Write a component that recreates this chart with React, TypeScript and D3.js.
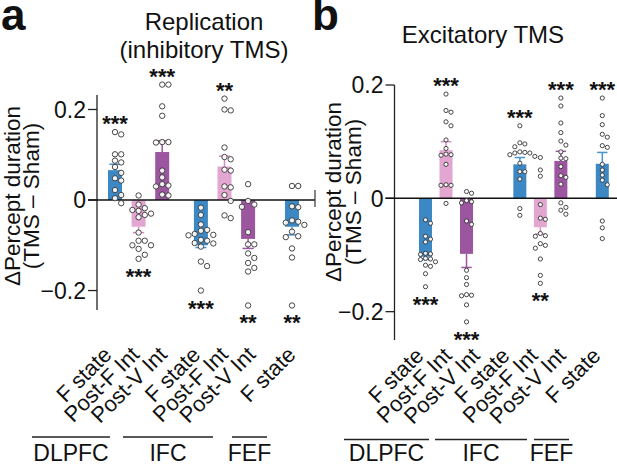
import * as d3 from "d3";

// ---- data ----
const CONDITIONS = ["F state", "Post-F Int", "Post-V Int", "F state", "Post-F Int", "Post-V Int", "F state"];
const REGIONS = ["DLPFC", "DLPFC", "DLPFC", "IFC", "IFC", "IFC", "FEF"];
const KINDS = ["F", "PF", "PV", "F", "PF", "PV", "F"];
const Y_TICKS = [-0.2, 0, 0.2];

const INHIB_MEANS = [0.066, -0.059, 0.106, -0.1, 0.074, -0.086, -0.059];
const INHIB_SEMS = [0.013, 0.013, 0.025, 0.005, 0.023, 0.021, 0.018];
const INHIB_STARS = ["***", "***", "***", "***", "**", "**", "**"];
const INHIB_POINTS = [
  [0.15, 0.145, 0.101, 0.101, 0.087, 0.083, 0.073, 0.06, 0.048, 0.043, 0.022, 0.011, 0.004, -0.007],
  [0.01, -0.01, -0.018, -0.022, -0.024, -0.03, -0.033, -0.038, -0.072, -0.09, -0.09, -0.1, -0.1, -0.108, -0.121, -0.13],
  [0.255, 0.255, 0.207, 0.186, 0.128, 0.127, 0.128, 0.065, 0.05, 0.032, 0.035, 0.03, 0.012, 0.01],
  [-0.017, -0.033, -0.054, -0.066, -0.068, -0.075, -0.077, -0.078, -0.088, -0.09, -0.095, -0.096, -0.103, -0.136, -0.146, -0.2],
  [0.224, 0.198, 0.2, 0.116, 0.095, 0.09, 0.065, 0.067, 0.03, 0.028, 0.011, -0.002, -0.034, -0.04],
  [0.035, -0.002, -0.01, -0.015, -0.071, -0.098, -0.098, -0.118, -0.128, -0.139, -0.15, -0.158, -0.233],
  [0.031, 0.031, -0.014, -0.016, -0.045, -0.05, -0.048, -0.055, -0.07, -0.08, -0.082, -0.107, -0.127, -0.233],
];

const EXCIT_MEANS = [-0.103, 0.085, -0.098, 0.06, -0.051, 0.066, 0.061];
const EXCIT_SEMS = [0.005, 0.015, 0.024, 0.012, 0.012, 0.017, 0.02];
const EXCIT_STARS = ["***", "***", "***", "***", "**", "***", "***"];
const EXCIT_POINTS = [
  [-0.038, -0.044, -0.067, -0.072, -0.077, -0.098, -0.099, -0.097, -0.106, -0.107, -0.108, -0.112, -0.118, -0.12, -0.133, -0.156],
  [0.184, 0.152, 0.155, 0.135, 0.128, 0.103, 0.088, 0.077, 0.078, 0.076, 0.06, 0.023, 0.023, 0.024, -0.009],
  [0.009, 0.012, -0.008, -0.006, -0.004, -0.04, -0.046, -0.127, -0.14, -0.152, -0.172, -0.17, -0.171, -0.188, -0.218],
  [0.128, 0.098, 0.096, 0.091, 0.081, 0.08, 0.082, 0.08, 0.074, 0.077, 0.062, 0.047, 0.047, 0.034, -0.018, -0.03],
  [0.072, 0.05, 0.039, -0.011, -0.035, -0.037, -0.062, -0.067, -0.066, -0.083, -0.08, -0.088, -0.107, -0.136, -0.15],
  [0.177, 0.163, 0.133, 0.116, 0.101, 0.094, 0.082, 0.07, 0.071, 0.056, 0.037, 0.04, 0.025, -0.008, -0.016, -0.021, -0.028],
  [0.177, 0.146, 0.13, 0.108, 0.113, 0.09, 0.093, 0.06, 0.05, 0.041, 0.032, 0.024, -0.04, -0.052, -0.071],
];

// ---- styles / layout ----
const WIDTH = 617;
const HEIGHT = 466;
const FONT = "'Liberation Sans', Arial, Helvetica, sans-serif";
const BAR_COLORS: Record<string, string> = { F: "#3b88c4", PF: "#e2a6d1", PV: "#9c559f" };
const ERR_COLORS: Record<string, string> = { F: "#4a94cc", PF: "#d58cc2", PV: "#9c559f" };

interface PanelLayout {
  letter: string;
  letterX: number;
  title: string[];
  titleX: number;
  titleY: number[];
  yDomain: [number, number];
  yRange: [number, number];
  axisX: number;
  zeroEnd: number;
  zeroEndTick: boolean;
  barRange: [number, number];
  barGaps: number[];
  barWidth: number;
  dotR: number;
  labelRange: [number, number];
  labelGaps: number[];
  labelY: number;
  ruleY: number;
  ruleSpans: Record<string, [number, number]>;
  regionY: number;
  yTitleX: [number, number];
  yTitleY: number;
}

const LAYOUT_A: PanelLayout = {
  letter: "a",
  letterX: 1,
  title: ["Replication", "(inhibitory TMS)"],
  titleX: 204,
  titleY: [30, 58],
  yDomain: [-0.243, 0.232],
  yRange: [310, 95],
  axisX: 97,
  zeroEnd: 315,
  zeroEndTick: true,
  barRange: [115, 292],
  barGaps: [0.64, 0.86],
  barWidth: 14,
  dotR: 2.7,
  labelRange: [113, 297],
  labelGaps: [0.2, 0.45],
  labelY: 356,
  ruleY: 437,
  ruleSpans: { DLPFC: [32, 110], IFC: [123, 213], FEF: [232, 267] },
  regionY: 461,
  yTitleX: [20, 39],
  yTitleY: 196,
};

const LAYOUT_B: PanelLayout = {
  letter: "b",
  letterX: 312,
  title: ["Excitatory TMS"],
  titleX: 483,
  titleY: [43],
  yDomain: [-0.25, 0.2],
  yRange: [340, 85],
  axisX: 394.5,
  zeroEnd: 617,
  zeroEndTick: false,
  barRange: [425.5, 602.3],
  barGaps: [1.6, 1.02],
  barWidth: 13,
  dotR: 2.1,
  labelRange: [425, 602],
  labelGaps: [0.06, 0.24],
  labelY: 357,
  ruleY: 439.5,
  ruleSpans: { DLPFC: [344, 429], IFC: [435, 527], FEF: [534, 569] },
  regionY: 461,
  yTitleX: [341, 361],
  yTitleY: 192,
};

// position units: 1 per bar, plus an extra gap between regions
function unitsFor(regions: string[], gaps: number[]) {
  const out: number[] = [];
  let u = 0;
  let g = 0;
  regions.forEach((r, i) => {
    if (i > 0) u += 1 + (r !== regions[i - 1] ? gaps[g++] : 0);
    out.push(u);
  });
  return out;
}

// simple deterministic beeswarm so dots don't overlap
function dodge(values: number[], y: (v: number) => number, cx: number, r: number) {
  const pts = values.map((v) => ({ v, py: y(v), px: cx }));
  const sorted = [...pts].sort((a, b) => a.py - b.py);
  const placed: typeof pts = [];
  const step = 2 * r + 0.8;
  for (const p of sorted) {
    for (let k = 0; k < 30; k++) {
      const off = k === 0 ? 0 : (k % 2 ? 1 : -1) * Math.ceil(k / 2) * step;
      const px = cx + off;
      const ok = placed.every((q) => (q.px - px) ** 2 + (q.py - p.py) ** 2 >= (2 * r + 0.5) ** 2);
      if (ok) {
        p.px = px;
        break;
      }
    }
    placed.push(p);
  }
  return pts;
}

function Panel({ L, means, sems, stars, points }: {
  L: PanelLayout;
  means: number[];
  sems: number[];
  stars: string[];
  points: number[][];
}) {
  const y = d3.scaleLinear().domain(L.yDomain).range(L.yRange);
  const barUnits = unitsFor(REGIONS, L.barGaps);
  const labelUnits = unitsFor(REGIONS, L.labelGaps);
  const x = d3.scaleLinear().domain([0, barUnits[barUnits.length - 1]]).range(L.barRange);
  const xLab = d3.scaleLinear().domain([0, labelUnits[labelUnits.length - 1]]).range(L.labelRange);
  const y0 = y(0);
  const regions = Array.from(new Set(REGIONS));

  return (
    <g fontFamily={FONT}>
      {/* panel letter + title */}
      <text x={L.letterX} y={30} fontSize={44} fontWeight="bold" fill="#111">
        {L.letter}
      </text>
      {L.title.map((t, i) => (
        <text key={t} x={L.titleX} y={L.titleY[i]} fontSize={24} textAnchor="middle" fill="#111">
          {t}
        </text>
      ))}

      {/* y title */}
      {["\u0394Percept duration", "(TMS \u2013 Sham)"].map((t, i) => (
        <text
          key={t}
          transform={`translate(${L.yTitleX[i]},${L.yTitleY}) rotate(-90)`}
          fontSize={22.5}
          textAnchor="middle"
          fill="#111"
        >
          {t}
        </text>
      ))}

      {/* y axis */}
      <line x1={L.axisX} x2={L.axisX} y1={L.yRange[0]} y2={L.yRange[1]} stroke="#222" strokeWidth={1.3} />
      {Y_TICKS.map((t) => (
        <g key={t}>
          <line x1={L.axisX - 9} x2={L.axisX} y1={y(t)} y2={y(t)} stroke="#222" strokeWidth={1.3} />
          <text x={L.axisX - 11} y={y(t)} dy="0.36em" fontSize={23} textAnchor="end" fill="#111">
            {t === 0 ? "0" : d3.format(".1f")(t).replace("-", "\u2212")}
          </text>
        </g>
      ))}

      {/* bars */}
      {means.map((m, i) => {
        const cx = x(barUnits[i]);
        const w = L.barWidth;
        const kind = KINDS[i];
        const tip = y(m + Math.sign(m) * sems[i]);
        return (
          <g key={`bar${i}`}>
            <rect
              x={cx - w / 2}
              width={w}
              y={Math.min(y(m), y0)}
              height={Math.abs(y(m) - y0)}
              fill={BAR_COLORS[kind]}
            />
            <line x1={cx} x2={cx} y1={y(m)} y2={tip} stroke={ERR_COLORS[kind]} strokeWidth={1.5} />
            <line x1={cx - w * 0.4} x2={cx + w * 0.4} y1={tip} y2={tip} stroke={ERR_COLORS[kind]} strokeWidth={1.5} />
          </g>
        );
      })}

      {/* zero line */}
      <line x1={L.axisX - 9} x2={L.zeroEnd} y1={y0} y2={y0} stroke="#111" strokeWidth={1.5} />
      {L.zeroEndTick && (
        <line x1={L.zeroEnd} x2={L.zeroEnd} y1={y0 - 10} y2={y0 + 7} stroke="#333" strokeWidth={1.2} />
      )}

      {/* individual subjects */}
      {points.map((vals, i) =>
        dodge(vals, y, x(barUnits[i]), L.dotR).map((p, j) => (
          <circle
            key={`p${i}-${j}`}
            cx={p.px}
            cy={p.py}
            r={L.dotR}
            fill="white"
            fillOpacity={0.9}
            stroke="#333"
            strokeWidth={0.9}
          />
        )),
      )}

      {/* significance stars */}
      {stars.map((s, i) => {
        const above = means[i] > 0;
        const ext = above ? d3.max(points[i])! : d3.min(points[i])!;
        return (
          <text
            key={`s${i}`}
            x={x(barUnits[i])}
            y={above ? y(ext) - 1 : y(ext) + 25}
            fontSize={22}
            fontWeight="bold"
            textAnchor="middle"
            fill="#111"
          >
            {s}
          </text>
        );
      })}

      {/* condition labels */}
      {CONDITIONS.map((c, i) => {
        const lx = xLab(labelUnits[i]);
        return (
          <text
            key={`l${i}`}
            transform={`translate(${lx},${L.labelY}) rotate(-45)`}
            fontSize={22}
            textAnchor="end"
            fill="#111"
          >
            {c}
          </text>
        );
      })}

      {/* region rules */}
      {regions.map((r) => {
        const [a, b] = L.ruleSpans[r];
        return (
          <g key={r}>
            <line x1={a} x2={b} y1={L.ruleY} y2={L.ruleY} stroke="#222" strokeWidth={1.3} />
            <text x={(a + b) / 2} y={L.regionY} fontSize={23} textAnchor="middle" fill="#111">
              {r}
            </text>
          </g>
        );
      })}
    </g>
  );
}

export default function App() {
  return (
    <svg
      width={WIDTH}
      height={HEIGHT}
      style={{ position: "absolute", left: 0, top: 0, background: "white" }}
    >
      <Panel L={LAYOUT_A} means={INHIB_MEANS} sems={INHIB_SEMS} stars={INHIB_STARS} points={INHIB_POINTS} />
      <Panel L={LAYOUT_B} means={EXCIT_MEANS} sems={EXCIT_SEMS} stars={EXCIT_STARS} points={EXCIT_POINTS} />
    </svg>
  );
}
